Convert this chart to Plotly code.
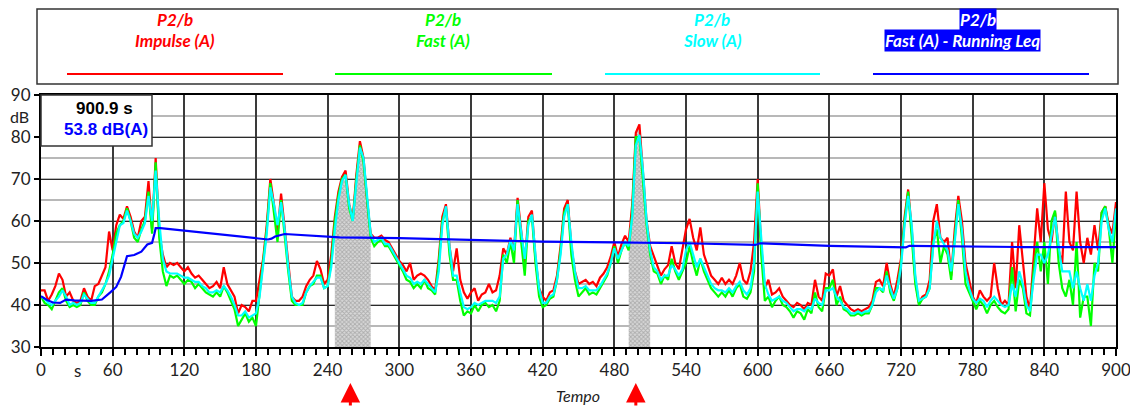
import plotly.graph_objects as go

# ---------------- data (3 s steps, 0..900 s) ----------------
t = list(range(0, 901, 3))

impulse = [
    43.5, 43.5, 41, 42.5, 44.5, 47.5, 46, 42, 43, 41, 40.5, 41, 44, 42, 41, 44.5, 45, 47, 49, 57.5,
    53, 59, 61.5, 60.5, 63.5, 61, 57.5, 56, 60, 61, 69.5, 58, 75, 57, 52, 49, 50, 49.5, 50, 49,
    48, 49, 47.5, 46.5, 47, 46, 45, 44, 44.5, 45.5, 44, 49, 45, 43.5, 42, 38, 40, 39.5, 38.5, 41,
    41, 46, 51, 59, 70, 64, 57, 66.5, 58, 50, 42, 41, 41, 42, 44.5, 46, 47, 50.5, 48.5, 45,
    46, 52, 61, 67, 70.5, 72, 64, 60.5, 71, 79, 75, 65, 57, 56, 56, 56.5, 55.5, 55, 53.5, 52,
    50.5, 49.5, 48, 50, 46, 47, 47.5, 47, 46, 44.5, 43.5, 51, 61, 64, 54, 48, 53.5, 46, 43, 41.5,
    43, 44, 41, 42.5, 43, 45, 43, 43.5, 47, 53.5, 52, 56, 53, 65.5, 57, 50, 61, 62.5, 51, 44,
    42, 41, 43, 43.5, 47, 54, 63, 65, 54, 48, 45, 45.5, 46, 45, 45.5, 44.5, 46.5, 47.5, 49, 51.5,
    55, 51.5, 54.5, 56.5, 55, 64, 81, 83, 72, 60, 54, 51.5, 49.5, 47, 48.5, 49.5, 54, 50, 48.5, 53,
    58, 60.5, 56, 53, 58.5, 52, 49.5, 47, 46, 45, 46.5, 45, 46, 45, 47, 50, 46, 45, 48, 55,
    70, 54, 44, 46, 42.5, 43, 44, 42, 41, 40, 39.5, 40.5, 40, 39, 40.5, 40, 46, 42, 41, 47.5,
    47, 48.5, 42, 44.5, 41, 40, 39, 38.5, 39, 38.5, 39, 39.5, 41, 45.5, 46, 44.5, 50, 45, 42, 46,
    51, 61, 67.5, 58, 46, 40.5, 42, 42.5, 46, 60, 64, 56, 55, 56, 47, 58, 66, 60, 50, 46,
    42, 40.5, 43.5, 42, 41, 42, 50, 44, 40, 41, 40, 55, 44, 59, 50, 42, 39, 50, 63, 55,
    69, 58, 55, 62, 53, 50, 67, 55, 53, 67, 55, 50, 56, 52, 59, 53, 62, 63.5, 59, 57,
    64.5,
]

fast = [
    42, 40.5, 40, 39, 41, 43, 44, 41, 39.5, 40, 39.5, 40, 43, 41, 40, 40, 42, 43, 45, 48,
    52, 57, 59, 60, 63, 60, 56, 55, 58, 60, 67, 57, 74, 56, 48, 44.5, 47, 46.5, 47, 46,
    45, 46, 45.5, 44, 45, 44, 43, 42.5, 42, 43, 42, 44.5, 43, 41, 39, 35, 36.5, 38, 36, 37,
    35, 43, 50, 58, 69, 62, 55, 65, 56, 48, 41, 40, 40, 40, 43, 44.5, 45, 47, 47, 44,
    44.5, 50, 60, 66, 70, 71, 63, 60, 70, 78, 74, 64, 56, 54, 55, 55.5, 54, 54, 52.5, 51,
    49.5, 48, 46, 45.5, 44, 45, 44, 46, 44, 43.5, 42.5, 50, 60, 63, 52, 46, 46, 41, 37.5, 38.5,
    38, 40, 38.5, 40, 40.5, 39.5, 40, 38.5, 41, 52, 50, 55, 50, 65, 55, 47, 60, 61, 50, 42,
    39.5, 40, 41.5, 42, 46, 53, 62, 64, 52, 46, 42, 43, 44, 42.5, 43, 42.5, 44, 45.5, 47, 50,
    54, 50, 53, 55, 53, 62, 80, 80, 70, 59, 52, 48, 47.5, 45, 47, 46, 51, 48, 46, 48,
    50, 54, 50, 47, 51, 48, 46, 44, 43, 42, 43, 42, 43.5, 42, 44, 45, 42, 41.5, 43, 48,
    69, 52, 41, 42, 39.5, 41, 42, 40, 39.5, 38.5, 37, 38.5, 38, 36.5, 39, 38, 43, 39.5, 38.5, 44,
    44, 46, 40, 42, 39, 38.5, 37.5, 37.5, 38, 37.5, 38, 38, 40, 44, 44, 43, 48, 43, 41, 44,
    50, 60, 67, 57, 45, 40, 41.5, 42, 44, 55, 58, 50, 54, 52, 46, 56, 65, 56, 45, 43,
    41, 39, 41, 40, 38, 40, 41, 39.5, 38.5, 38, 39, 49, 38.5, 46, 44, 38, 37.5, 48, 55, 48,
    55, 45, 60, 62.5, 50, 44, 42, 46, 40, 55, 37, 42, 42, 35, 50, 48, 62, 63.5, 58, 50,
    62,
]

slow = [
    42, 41.5, 40.5, 40, 41, 42, 43.5, 42, 40, 40.5, 40, 40.5, 42.5, 41.5, 40.5, 40.5, 42, 43.5, 45, 47,
    51, 55, 59, 59.5, 62.5, 60, 57, 56, 57.5, 59.5, 66, 60, 72, 60, 51, 48, 47.5, 47.5, 47.5, 47,
    46.5, 46.5, 46, 45.5, 45.5, 44.5, 44, 43, 43, 43.5, 43, 44.5, 43.5, 42, 40, 37.5, 37.5, 38.5, 37, 37.5,
    38, 42, 49, 57, 68, 64, 59, 64.5, 58, 49, 42, 40.5, 40, 40.5, 43, 44.5, 45.5, 46.5, 46.5, 44,
    44.5, 49, 58, 65, 69.5, 71, 64, 60, 69, 77.5, 75, 65, 57, 55, 55.5, 56, 54.5, 54.5, 53, 51.5,
    50, 48.5, 47, 46.5, 45, 45.5, 45, 46, 45, 44, 43, 48, 59, 63.5, 54, 47, 47, 43, 39.5, 39,
    39.5, 40.5, 40, 40.5, 41, 41, 41, 40.5, 42, 51, 52, 55.5, 53, 64, 57, 51, 59, 61.5, 52, 44,
    40.5, 40.5, 42, 42.5, 46, 52, 61, 64, 55, 48, 44, 44, 44.5, 43.5, 43.5, 43.5, 44.5, 46, 47.5, 50,
    53.5, 51, 53, 55, 54, 61, 78, 80.5, 72, 60, 53, 49, 48, 46, 47, 47, 49.5, 48.5, 47, 48.5,
    53, 55, 52, 49, 51, 49, 47, 45, 44, 43.5, 43.5, 43, 44, 43, 44.5, 45.5, 43.5, 42.5, 44, 50,
    67, 56, 45, 42.5, 41, 41.5, 42, 41, 40.5, 39.5, 38.5, 39, 39, 38.5, 39.5, 39, 41.5, 40.5, 40, 43.5,
    43.5, 44, 42, 41, 39.5, 39, 38, 38, 38.5, 38, 38.5, 38.5, 40, 43, 44, 43.5, 47, 44, 41.5, 44,
    49, 59, 66, 59, 47, 41, 41.5, 42, 44, 54, 60, 56, 54.5, 53, 48, 55, 64, 58, 48, 44,
    41.5, 40.5, 41.5, 41, 39.5, 41, 42, 41, 40, 39.5, 40, 45, 42, 48, 45, 40, 38.5, 46, 52, 52,
    50, 52, 57, 61, 54, 48, 48, 48, 44, 48, 44, 41, 45, 41, 47, 50, 60, 63, 58, 55,
    63,
]

leq_t = [0, 5, 10, 16, 21, 28, 42, 51, 58, 63, 67, 72, 78, 84, 89, 93, 95, 96, 100, 139,
         190, 193, 196, 204, 250, 300, 360, 420, 480, 540, 598, 602, 660, 720, 724, 727, 820, 900]
leq_v = [42.1, 41.2, 40.6, 40.5, 41.3, 41.1, 41.0, 41.3, 43.0, 44.3, 46.7, 51.6, 51.9, 52.7, 54.4, 54.8, 57.0, 58.3, 58.3, 57.1,
         55.6, 55.8, 56.3, 56.9, 56.1, 55.9, 55.5, 55.1, 54.9, 54.7, 54.3, 54.7, 54.1, 53.8, 53.7, 54.1, 53.8, 53.8]

hatch_windows = [(246, 276), (492, 510)]
arrow_times = [259, 498]

x_ticks = [0, 60, 120, 180, 240, 300, 360, 420, 480, 540, 600, 660, 720, 780, 840, 900]
y_ticks = [30, 40, 50, 60, 70, 80, 90]

series_names = ["Impulse (A)", "Fast (A)", "Slow (A)", "Fast (A) - Running Leq"]
series_colors = ["#ff0000", "#00ff00", "#00ffff", "#0000ff"]
info_time = "900.9 s"
info_level = "53.8 dB(A)"

# ---------------- figure ----------------
fig = go.Figure()

for a, b in hatch_windows:
    idx = [i for i, tt in enumerate(t) if a <= tt <= b]
    fig.add_trace(go.Scatter(
        x=[t[i] for i in idx], y=[impulse[i] for i in idx],
        mode="lines", line=dict(width=0, color="rgba(0,0,0,0)"),
        fill="tozeroy", fillcolor="#c8c8c8",
        fillpattern=dict(shape="x", size=3, solidity=0.5, fgcolor="#808080", bgcolor="#d8d8d8"),
        hoverinfo="skip"))

for ys, col in [(impulse, series_colors[0]), (fast, series_colors[1]), (slow, series_colors[2])]:
    fig.add_trace(go.Scatter(x=t, y=ys, mode="lines", line=dict(color=col, width=2.2)))

fig.add_trace(go.Scatter(x=leq_t, y=leq_v, mode="lines", line=dict(color=series_colors[3], width=2.2)))

# page body has an 8 px margin: figure coords = screen coords - 8
OFF = 8
W, H = 1130, 399
PL, PR, PT, PB = 41, 1116, 95, 347          # plot area in screen pixels
L, T = PL - OFF, PT - OFF
R, B = W - (PR - OFF), H - (PB - OFF)
pw, ph = PR - PL, PB - PT


def px(xs):
    return (xs - PL) / pw


def py(ys):
    return (PB - ys) / ph


shapes = []
# legend box
shapes.append(dict(type="rect", xref="paper", yref="paper",
                   x0=px(37), x1=px(1118), y0=py(84), y1=py(9),
                   line=dict(color="#333", width=1.5), fillcolor="white", layer="below"))
legend_lines = [(67, 283), (335, 552), (605, 820), (873, 1089)]
for (a, b), col in zip(legend_lines, series_colors):
    shapes.append(dict(type="line", xref="paper", yref="paper",
                       x0=px(a), x1=px(b), y0=py(74), y1=py(74),
                       line=dict(color=col, width=2)))
# info box
shapes.append(dict(type="rect", xref="paper", yref="paper",
                   x0=0, x1=px(152), y0=py(146), y1=1,
                   line=dict(color="#333", width=1.5), fillcolor="white", layer="above"))

annotations = []
centers = [175, 443, 712, 981]
lfont = "Lato, Open Sans, sans-serif"


def note(xs, ys, text, font, **kw):
    d = dict(x=px(xs), y=py(ys), xref="paper", yref="paper", showarrow=False,
             xanchor="center", yanchor="middle", text=text, font=font)
    d.update(kw)
    annotations.append(d)


for i, (cx, name, col) in enumerate(zip(centers, series_names, series_colors)):
    if i < 3:
        note(cx, 20, "<b><i>P2/b</i></b>", dict(family=lfont, size=17, color=col))
        note(cx, 40, "<b><i>%s</i></b>" % name, dict(family=lfont, size=17, color=col))
    else:
        note(978, 20, "<b><i>P2/b</i></b>", dict(family=lfont, size=17, color="white"),
             bgcolor=col, borderpad=0)
        note(962, 40, "<b><i>%s</i></b>" % name, dict(family=lfont, size=17, color="white"),
             bgcolor=col, borderpad=0)

note(104, 108, "<b>%s</b>" % info_time, dict(family="Liberation Sans, Arial", size=17, color="black"))
note(106, 129, "<b>%s</b>" % info_level, dict(family="Liberation Sans, Arial", size=17, color="#0000ff"))
note(19, 116, "dB", dict(family=lfont, size=16, color="#222"))
note(77, 370, "s", dict(family=lfont, size=17, color="#222"))
note(578, 395, "<i>Tempo</i>", dict(family=lfont, size=16, color="#222"))

for at in arrow_times:
    annotations.append(dict(x=at, y=py(383), xref="x", yref="paper", showarrow=True,
                            ax=0, ay=26, text="", arrowhead=2, arrowsize=1.3,
                            arrowwidth=3, arrowcolor="#ff0000"))

fig.update_layout(
    width=W, height=H, margin=dict(l=L, r=R, t=T, b=B, autoexpand=False),
    paper_bgcolor="white", plot_bgcolor="white", showlegend=False,
    shapes=shapes, annotations=annotations,
    xaxis=dict(range=[0, 900], tickvals=x_ticks, ticks="outside", ticklen=7, tickwidth=1.5,
               tickcolor="black", showline=True, linecolor="black", linewidth=2, mirror=True,
               showgrid=True, gridcolor="#3a3a3a", gridwidth=1.5, zeroline=False, automargin=False,
               tickfont=dict(family=lfont, size=17, color="#222"),
               minor=dict(dtick=10, ticks="outside", ticklen=6, tickcolor="black", tickwidth=1.5, showgrid=False)),
    yaxis=dict(range=[30, 90], tickvals=y_ticks, ticks="outside", ticklen=5, tickwidth=1.5,
               tickcolor="black", showline=True, linecolor="black", linewidth=2, mirror=True,
               showgrid=True, gridcolor="#2a2a2a", gridwidth=1.2, zeroline=False, automargin=False,
               tickfont=dict(family=lfont, size=17, color="#222"),
               minor=dict(dtick=5, showgrid=True, gridcolor="#b8b8b8", gridwidth=2, ticks="")),
)

fig.write_html("out.html")
